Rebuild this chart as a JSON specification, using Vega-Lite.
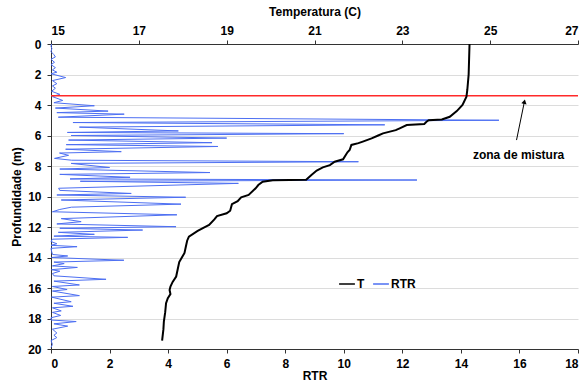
{
"$schema": "https://vega.github.io/schema/vega-lite/v6.json",
"width": 527, "height": 305,
"autosize": {"type": "none"},
"padding": {"left": 51, "top": 44, "right": 5, "bottom": 34},
"background": "white",
"config": {
  "view": {"stroke": null},
  "font": "Liberation Sans",
  "axis": {"labelFont": "Liberation Sans", "labelFontWeight": "bold", "labelFontSize": 12, "labelColor": "black",
           "titleFont": "Liberation Sans", "titleFontWeight": "bold", "titleFontSize": 12, "titleColor": "black",
           "domainColor": "#333", "tickColor": "#333", "tickSize": 4, "gridColor": "#dcdcdc", "labelPadding": 3, "labelOverlap": false},
  "axisY": {"values": [0,2,4,6,8,10,12,14,16,18,20], "grid": true, "labelPadding": 6, "titlePadding": 4, "tickCount": 11},
  "legend": {"labelFont": "Liberation Sans", "labelFontWeight": "bold", "labelFontSize": 12, "labelColor": "black"}
},
"datasets": {
  "rtr": [
    {"depth":0.0,"rtr":0.02},{"depth":0.15,"rtr":0.0},{"depth":0.3,"rtr":0.03},{"depth":0.5,"rtr":0.0},{"depth":0.7,"rtr":0.1},
    {"depth":0.85,"rtr":0.15},{"depth":1.0,"rtr":0.0},{"depth":1.2,"rtr":0.12},{"depth":1.35,"rtr":0.0},{"depth":1.55,"rtr":0.15},
    {"depth":1.7,"rtr":0.05},{"depth":1.85,"rtr":0.2},{"depth":1.95,"rtr":0.0},{"depth":2.2,"rtr":0.5},{"depth":2.4,"rtr":0.05},
    {"depth":2.6,"rtr":0.2},{"depth":2.75,"rtr":0.05},{"depth":2.9,"rtr":0.15},{"depth":3.1,"rtr":0.02},{"depth":3.3,"rtr":0.3},
    {"depth":3.45,"rtr":0.05},{"depth":3.7,"rtr":0.4},{"depth":3.85,"rtr":0.1},{"depth":4.05,"rtr":1.48},{"depth":4.2,"rtr":0.15},
    {"depth":4.4,"rtr":1.95},{"depth":4.5,"rtr":0.2},{"depth":4.6,"rtr":2.5},{"depth":4.8,"rtr":0.25},{"depth":5.0,"rtr":15.3},
    {"depth":5.15,"rtr":0.75},{"depth":5.3,"rtr":11.4},{"depth":5.45,"rtr":0.97},{"depth":5.7,"rtr":4.35},{"depth":5.8,"rtr":0.56},
    {"depth":5.88,"rtr":10.0},{"depth":6.0,"rtr":0.69},{"depth":6.17,"rtr":6.0},{"depth":6.3,"rtr":0.6},{"depth":6.47,"rtr":5.5},
    {"depth":6.6,"rtr":0.52},{"depth":6.72,"rtr":5.7},{"depth":6.9,"rtr":0.5},{"depth":7.06,"rtr":2.4},{"depth":7.15,"rtr":0.29},
    {"depth":7.3,"rtr":0.6},{"depth":7.5,"rtr":0.12},{"depth":7.62,"rtr":0.7},{"depth":7.72,"rtr":10.5},{"depth":7.83,"rtr":0.69},
    {"depth":8.1,"rtr":2.0},{"depth":8.2,"rtr":0.3},{"depth":8.43,"rtr":5.43},{"depth":8.55,"rtr":0.3},{"depth":8.74,"rtr":2.7},
    {"depth":8.85,"rtr":0.65},{"depth":8.92,"rtr":12.5},{"depth":9.0,"rtr":1.0},{"depth":9.14,"rtr":6.4},{"depth":9.46,"rtr":0.26},
    {"depth":9.6,"rtr":0.3},{"depth":9.8,"rtr":2.74},{"depth":9.9,"rtr":0.2},{"depth":10.05,"rtr":4.6},{"depth":10.23,"rtr":0.35},
    {"depth":10.5,"rtr":4.44},{"depth":10.7,"rtr":0.7},{"depth":10.85,"rtr":0.3},{"depth":11.0,"rtr":0.05},{"depth":11.2,"rtr":4.3},
    {"depth":11.45,"rtr":0.35},{"depth":11.65,"rtr":1.03},{"depth":11.8,"rtr":0.2},{"depth":11.98,"rtr":4.27},{"depth":12.08,"rtr":0.3},
    {"depth":12.2,"rtr":3.13},{"depth":12.35,"rtr":0.25},{"depth":12.48,"rtr":1.48},{"depth":12.6,"rtr":0.1},{"depth":12.68,"rtr":2.62},
    {"depth":12.8,"rtr":0.05},{"depth":12.95,"rtr":0.0},{"depth":13.1,"rtr":0.2},{"depth":13.2,"rtr":0.0},{"depth":13.29,"rtr":0.89},
    {"depth":13.4,"rtr":0.0},{"depth":13.6,"rtr":0.02},{"depth":13.8,"rtr":0.05},{"depth":13.9,"rtr":0.57},{"depth":14.0,"rtr":0.02},
    {"depth":14.18,"rtr":2.49},{"depth":14.3,"rtr":0.1},{"depth":14.4,"rtr":0.45},{"depth":14.55,"rtr":0.05},{"depth":14.65,"rtr":0.9},
    {"depth":14.8,"rtr":0.02},{"depth":14.9,"rtr":0.3},{"depth":15.05,"rtr":0.05},{"depth":15.2,"rtr":0.1},{"depth":15.43,"rtr":1.88},
    {"depth":15.55,"rtr":0.1},{"depth":15.8,"rtr":0.97},{"depth":15.9,"rtr":0.05},{"depth":16.1,"rtr":0.55},{"depth":16.2,"rtr":0.05},
    {"depth":16.5,"rtr":0.97},{"depth":16.6,"rtr":0.02},{"depth":16.9,"rtr":0.69},{"depth":17.0,"rtr":0.1},{"depth":17.2,"rtr":0.75},
    {"depth":17.3,"rtr":0.05},{"depth":17.5,"rtr":0.35},{"depth":17.6,"rtr":0.05},{"depth":17.8,"rtr":0.33},{"depth":17.95,"rtr":0.0},
    {"depth":18.1,"rtr":0.0},{"depth":18.2,"rtr":0.86},{"depth":18.35,"rtr":0.1},{"depth":18.5,"rtr":0.57},{"depth":18.7,"rtr":0.05},
    {"depth":18.95,"rtr":0.2},{"depth":19.1,"rtr":0.1},{"depth":19.25,"rtr":0.2},{"depth":19.45,"rtr":0.0},{"depth":19.7,"rtr":0.05},
    {"depth":19.9,"rtr":0.0}
  ],
  "temp": [
    {"depth":0.0,"temp":24.53},{"depth":1.0,"temp":24.52},{"depth":2.0,"temp":24.51},{"depth":3.0,"temp":24.48},{"depth":3.45,"temp":24.46},
    {"depth":4.0,"temp":24.37},{"depth":4.4,"temp":24.24},{"depth":4.77,"temp":24.08},{"depth":4.95,"temp":23.9},{"depth":5.0,"temp":23.6},
    {"depth":5.1,"temp":23.55},{"depth":5.24,"temp":23.5},{"depth":5.31,"temp":23.1},{"depth":5.53,"temp":22.94},{"depth":5.65,"temp":22.85},
    {"depth":5.86,"temp":22.56},{"depth":6.0,"temp":22.45},{"depth":6.19,"temp":22.3},{"depth":6.4,"temp":22.1},{"depth":6.5,"temp":22.0},
    {"depth":6.62,"temp":21.84},{"depth":6.95,"temp":21.8},{"depth":7.1,"temp":21.75},{"depth":7.56,"temp":21.65},{"depth":7.72,"temp":21.46},
    {"depth":7.94,"temp":21.35},{"depth":8.09,"temp":21.19},{"depth":8.3,"temp":21.05},{"depth":8.59,"temp":20.93},{"depth":8.9,"temp":20.81},
    {"depth":8.93,"temp":20.05},{"depth":9.03,"temp":19.82},{"depth":9.25,"temp":19.72},{"depth":9.46,"temp":19.66},{"depth":9.9,"temp":19.5},
    {"depth":10.05,"temp":19.33},{"depth":10.3,"temp":19.25},{"depth":10.5,"temp":19.12},{"depth":10.93,"temp":19.08},{"depth":11.1,"temp":19.0},
    {"depth":11.28,"temp":18.78},{"depth":11.5,"temp":18.72},{"depth":11.87,"temp":18.6},{"depth":12.04,"temp":18.48},{"depth":12.26,"temp":18.34},
    {"depth":12.63,"temp":18.14},{"depth":12.9,"temp":18.1},{"depth":13.29,"temp":18.07},{"depth":13.7,"temp":18.04},{"depth":14.05,"temp":17.97},
    {"depth":14.3,"temp":17.92},{"depth":14.7,"temp":17.89},{"depth":15.25,"temp":17.85},{"depth":15.6,"temp":17.77},{"depth":15.9,"temp":17.72},
    {"depth":16.13,"temp":17.7},{"depth":16.4,"temp":17.72},{"depth":16.67,"temp":17.66},{"depth":17.0,"temp":17.62},{"depth":17.6,"temp":17.6},
    {"depth":18.2,"temp":17.57},{"depth":18.7,"temp":17.56},{"depth":19.45,"temp":17.53}
  ],
  "mix": [{"depth": 3.4}],
  "arrow": [{"x1": 15.9, "d1": 6.3, "x2": 16.17, "d2": 3.78}],
  "note": [{"label": "zona de mistura", "x": 15.97, "depth": 7.28}]
},
"layer": [
  {"layer": [
    {"data": {"name": "rtr"},
     "mark": {"type": "line", "strokeWidth": 1},
     "encoding": {
       "x": {"field": "rtr", "type": "quantitative", "scale": {"domain": [0, 18], "nice": false, "zero": false},
             "axis": {"orient": "bottom", "values": [0,2,4,6,8,10,12,14,16,18], "title": "RTR", "grid": false, "titlePadding": 1, "labelPadding": 5}},
       "y": {"field": "depth", "type": "quantitative", "scale": {"domain": [0, 20], "reverse": true, "nice": false},
             "title": "Profundidade (m)"},
       "order": {"field": "depth"},
       "color": {"datum": "RTR", "type": "nominal",
                 "scale": {"domain": ["T", "RTR"], "range": ["black", "#4d6ff2"]},
                 "legend": {"orient": "none", "legendX": 287, "legendY": 231, "direction": "horizontal", "title": null,
                            "symbolType": "stroke", "symbolSize": 250, "symbolStrokeWidth": 1.5, "labelOffset": 1,
                            "columnPadding": 5, "padding": 0}}
     }},
    {"data": {"name": "mix"},
     "mark": {"type": "rule", "color": "#ff2a2a", "strokeWidth": 1.5},
     "encoding": {"y": {"field": "depth", "type": "quantitative", "title": "Profundidade (m)"}}},
    {"data": {"name": "arrow"},
     "mark": {"type": "rule", "color": "black", "strokeWidth": 1},
     "encoding": {"x": {"field": "x1", "type": "quantitative"}, "x2": {"field": "x2"},
                  "y": {"field": "d1", "type": "quantitative", "title": "Profundidade (m)"}, "y2": {"field": "d2"}}},
    {"data": {"name": "arrow"},
     "mark": {"type": "point", "shape": "triangle-up", "filled": true, "color": "black", "size": 28, "angle": 12, "opacity": 1},
     "encoding": {"x": {"field": "x2", "type": "quantitative"}, "y": {"field": "d2", "type": "quantitative", "title": "Profundidade (m)"}}},
    {"data": {"name": "note"},
     "mark": {"type": "text", "font": "Liberation Sans", "fontWeight": "bold", "fontSize": 12, "color": "black", "align": "center", "baseline": "middle"},
     "encoding": {"x": {"field": "x", "type": "quantitative"}, "y": {"field": "depth", "type": "quantitative", "title": "Profundidade (m)"},
                  "text": {"field": "label"}}}
  ]},
  {"data": {"name": "temp"},
   "mark": {"type": "line", "strokeWidth": 2},
   "encoding": {
     "x": {"field": "temp", "type": "quantitative", "scale": {"domain": [15, 27], "nice": false, "zero": false},
           "axis": {"orient": "top", "values": [15,17,19,21,23,25,27], "title": "Temperatura (C)", "grid": false, "titlePadding": 6}},
     "y": {"field": "depth", "type": "quantitative", "title": "Profundidade (m)"},
     "order": {"field": "depth"},
     "color": {"datum": "T", "type": "nominal"}
   }}
],
"resolve": {"scale": {"x": "independent"}, "axis": {"x": "independent"}}
}
